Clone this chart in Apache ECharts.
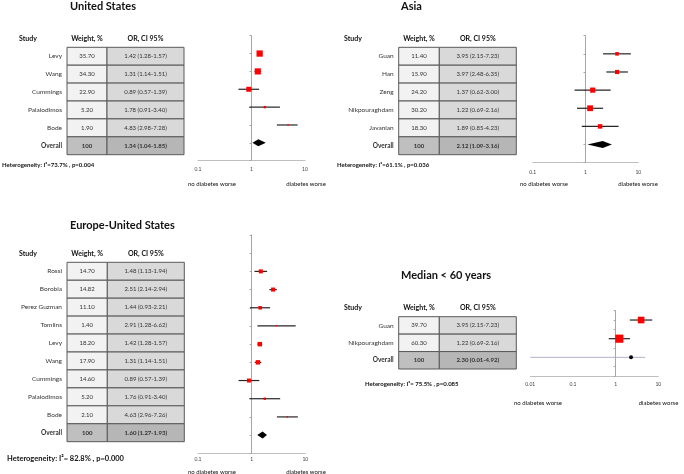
<!DOCTYPE html>
<html>
<head>
<meta charset="utf-8">
<style>
  html, body { margin: 0; padding: 0; background: #fff; }
  #chart { width: 684px; height: 474px; }
</style>
<script src="https://cdn.jsdelivr.net/npm/echarts@6/dist/echarts.min.js"></script>
</head>
<body>
<div id="chart"></div>
<script>
// United States
const usStudies = ['Levy', 'Wang', 'Cummings', 'Palaiodimos', 'Bode'];
const usWeight = [35.7, 34.3, 22.9, 5.2, 1.9];
const usOR = [1.42, 1.31, 0.89, 1.78, 4.83];
const usLow = [1.28, 1.14, 0.57, 0.91, 2.98];
const usHigh = [1.57, 1.51, 1.39, 3.40, 7.28];
const usOverall = [1.34, 1.04, 1.85]; // OR, low, high

// Asia
const asiaStudies = ['Guan', 'Han', 'Zeng', 'Nikpouraghdam', 'Javanian'];
const asiaWeight = [11.4, 15.9, 24.2, 30.2, 18.3];
const asiaOR = [3.95, 3.97, 1.37, 1.22, 1.89];
const asiaLow = [2.15, 2.48, 0.62, 0.69, 0.85];
const asiaHigh = [7.23, 6.35, 3.00, 2.16, 4.23];
const asiaOverall = [2.12, 1.09, 3.16];

// Europe-United States
const euStudies = ['Rossi', 'Borobia', 'Perez Guzman', 'Tomlins', 'Levy', 'Wang', 'Cummings', 'Palaiodimos', 'Bode'];
const euWeight = [14.7, 14.82, 11.1, 1.4, 18.2, 17.9, 14.6, 5.2, 2.1];
const euOR = [1.48, 2.51, 1.44, 2.91, 1.42, 1.31, 0.89, 1.76, 4.63];
const euLow = [1.13, 2.14, 0.93, 1.28, 1.28, 1.14, 0.57, 0.91, 2.96];
const euHigh = [1.94, 2.94, 2.21, 6.62, 1.57, 1.51, 1.39, 3.40, 7.26];
const euOverall = [1.60, 1.27, 1.93];

// Median < 60 years
const medStudies = ['Guan', 'Nikpouraghdam'];
const medWeight = [39.7, 60.3];
const medOR = [3.95, 1.22];
const medLow = [2.15, 0.69];
const medHigh = [7.23, 2.16];
const medOverall = [2.30, 0.01, 4.92];

const hetI2 = ['=73.7%', '=61.1%', '= 82.8%', '= 75.5%'];
const hetP = ['0.004', '0.036', '0.000', '0.085'];

const FONT = 'Lato, "Liberation Sans", sans-serif';
const TXT = '#333';

const panels = [
  {
    title: 'United States', studies: usStudies, weight: usWeight, or: usOR, low: usLow, high: usHigh, overall: usOverall,
    titlePos: [70, 6], headY: 39, studyX: 19,
    table: { left: 67, top: 47.3, width: 117, height: 107.4, split: 40 },
    forest: { left: 198, top: 35.7, width: 107, height: 125, yMin: 0, yMax: 7, step: 1, xMin: 0.1, labelMargin: 6 },
    hetPos: [2, 165], hetSize: 6, dirY: 184, dirX: [212, 306], diamond: true
  },
  {
    title: 'Asia', studies: asiaStudies, weight: asiaWeight, or: asiaOR, low: asiaLow, high: asiaHigh, overall: asiaOverall,
    titlePos: [401, 6], headY: 39, studyX: 344,
    table: { left: 398.7, top: 47.3, width: 117.6, height: 107.4, split: 40.6 },
    forest: { left: 532.7, top: 35.7, width: 105.6, height: 127, yMin: 0, yMax: 7, step: 1, xMin: 0.1, labelMargin: 7 },
    hetPos: [337, 165], hetSize: 6, dirY: 184, dirX: [544, 638], diamond: true
  },
  {
    title: 'Europe-United States', studies: euStudies, weight: euWeight, or: euOR, low: euLow, high: euHigh, overall: euOverall,
    titlePos: [70, 225], headY: 253.7, studyX: 19,
    table: { left: 67, top: 262.3, width: 117.3, height: 179.4, split: 40.3 },
    forest: { left: 198, top: 235, width: 107.3, height: 218.3, yMin: -1, yMax: 11, step: 1, xMin: 0.1, labelMargin: 4 },
    hetPos: [7, 459], hetSize: 7.5, dirY: 471.7, dirX: [212, 306], diamond: true
  },
  {
    title: 'Median < 60 years', studies: medStudies, weight: medWeight, or: medOR, low: medLow, high: medHigh, overall: medOverall,
    titlePos: [401, 275], headY: 307.7, studyX: 344,
    table: { left: 398.7, top: 316.7, width: 117.6, height: 52.3, split: 40.6 },
    forest: { left: 530.3, top: 310.7, width: 128, height: 65.3, yMin: 0.5, yMax: 4, step: 0.5, xMin: 0.01, labelMargin: 6 },
    hetPos: [365, 384.3], hetSize: 6, dirY: 402.7, dirX: [538, 658.5], diamond: false
  }
];

const fmt = v => v.toFixed(2);

function tableRenderer(p) {
  const n = p.studies.length;
  const frac = p.table.split / p.table.width;
  return function (params, api) {
    const i = params.dataIndex;
    const ov = i === n;
    const tl = api.coord([0, i]);
    const br = api.coord([1, i + 1]);
    const mid = api.coord([frac, i])[0];
    const cy = (tl[1] + br[1]) / 2;
    const name = ov ? 'Overall' : p.studies[i];
    const wTxt = ov ? '100' : fmt(p.weight[i]);
    const orTxt = ov
      ? fmt(p.overall[0]) + ' (' + fmt(p.overall[1]) + '-' + fmt(p.overall[2]) + ')'
      : fmt(p.or[i]) + ' (' + fmt(p.low[i]) + '-' + fmt(p.high[i]) + ')';
    const weightBold = ov ? 'bold' : 'normal';
    return {
      type: 'group',
      children: [
        { type: 'rect', shape: { x: tl[0], y: tl[1], width: mid - tl[0], height: br[1] - tl[1] },
          style: { fill: ov ? '#bfbfbf' : '#f2f2f2', stroke: '#595959', lineWidth: 1 } },
        { type: 'rect', shape: { x: mid, y: tl[1], width: br[0] - mid, height: br[1] - tl[1] },
          style: { fill: ov ? '#b6b6b6' : '#d9d9d9', stroke: '#595959', lineWidth: 1 } },
        { type: 'text', x: (tl[0] + mid) / 2, y: cy,
          style: { text: wTxt, fontSize: 6, fontWeight: weightBold, fontFamily: FONT, fill: TXT, align: 'center', verticalAlign: 'middle' } },
        { type: 'text', x: (mid + br[0]) / 2, y: cy,
          style: { text: orTxt, fontSize: 6, fontWeight: weightBold, fontFamily: FONT, fill: TXT, align: 'center', verticalAlign: 'middle' } },
        { type: 'text', x: tl[0] - 5, y: cy,
          style: { text: name, fontSize: 6.5, fontWeight: weightBold, fontFamily: FONT, fill: TXT, align: 'right', verticalAlign: 'middle' } }
      ]
    };
  };
}

function forestRenderer(p) {
  return function (params, api) {
    const or = api.value(0), row = api.value(1), lo = api.value(2), hi = api.value(3), w = api.value(4), ov = api.value(5);
    const c = api.coord([or, row]);
    const a = api.coord([lo, row]);
    const b = api.coord([hi, row]);
    const children = [];
    if (!ov) {
      children.push({ type: 'line', shape: { x1: a[0], y1: a[1], x2: b[0], y2: b[1] }, style: { stroke: '#262626', lineWidth: 1.2 } });
      const s = Math.sqrt(w) * 1.05;
      children.push({ type: 'rect', shape: { x: c[0] - s / 2, y: c[1] - s / 2, width: s, height: s }, style: { fill: '#ff0000' } });
    } else if (p.diamond) {
      const h = 3.5;
      children.push({ type: 'polygon', shape: { points: [[a[0], c[1]], [c[0], c[1] - h], [b[0], c[1]], [c[0], c[1] + h]] }, style: { fill: '#000' } });
    } else {
      children.push({ type: 'line', shape: { x1: a[0], y1: a[1], x2: b[0], y2: b[1] }, style: { stroke: '#b4b2c8', lineWidth: 1 } });
      children.push({ type: 'circle', shape: { cx: c[0], cy: c[1], r: 2 }, style: { fill: '#000' } });
    }
    return { type: 'group', children: children };
  };
}

const grid = [], xAxis = [], yAxis = [], series = [], graphic = [];

panels.forEach((p, k) => {
  const n = p.studies.length;
  const t = p.table, f = p.forest;

  // table grid
  grid.push({ left: t.left, top: t.top, width: t.width, height: t.height });
  xAxis.push({ gridIndex: 2 * k, type: 'value', min: 0, max: 1, show: false });
  yAxis.push({ gridIndex: 2 * k, type: 'value', min: 0, max: n + 1, inverse: true, show: false });
  const rows = [];
  for (let i = 0; i <= n; i++) rows.push([0, i]);
  series.push({ type: 'custom', xAxisIndex: 2 * k, yAxisIndex: 2 * k, renderItem: tableRenderer(p), data: rows, silent: true });

  // forest grid
  const logMin = Math.log10(f.xMin);
  const oneOffset = -f.width * (0 - logMin) / (1 - logMin);
  grid.push({ left: f.left, top: f.top, width: f.width, height: f.height });
  xAxis.push({
    gridIndex: 2 * k + 1, type: 'log', logBase: 10, min: f.xMin, max: 10,
    axisLine: { onZero: false, lineStyle: { color: '#bfbfbf', width: 1 } },
    axisTick: { show: false }, splitLine: { show: false },
    axisLabel: { fontSize: 5, color: '#444', fontFamily: FONT, margin: f.labelMargin }
  });
  yAxis.push({
    gridIndex: 2 * k + 1, type: 'value', min: f.yMin, max: f.yMax, interval: f.step, inverse: true,
    offset: oneOffset,
    axisLine: { show: true, onZero: false, lineStyle: { color: '#a6a6a6', width: 1 } },
    axisTick: { show: true, length: 2, lineStyle: { color: '#a6a6a6' } },
    axisLabel: { show: false }, splitLine: { show: false }
  });
  const pts = p.studies.map((s, i) => [p.or[i], i + 1, p.low[i], p.high[i], p.weight[i], 0]);
  pts.push([p.overall[0], n + 1, p.overall[1], p.overall[2], 100, 1]);
  series.push({ type: 'custom', xAxisIndex: 2 * k + 1, yAxisIndex: 2 * k + 1, renderItem: forestRenderer(p), data: pts, silent: true });

  // texts
  const txt = (x, y, text, size, weight, align) => ({
    type: 'text', x: x, y: y, silent: true,
    style: { text: text, fontSize: size, fontWeight: weight, fontFamily: FONT, fill: '#111', align: align, verticalAlign: 'middle' }
  });
  graphic.push(txt(p.titlePos[0], p.titlePos[1], p.title, 11, 'bold', 'left'));
  graphic.push(txt(p.studyX, p.headY, 'Study', 7, 'bold', 'left'));
  graphic.push(txt(t.left + t.split / 2, p.headY, 'Weight, %', 7, 'bold', 'center'));
  graphic.push(txt(t.left + t.split + (t.width - t.split) / 2, p.headY, 'OR, CI 95%', 7, 'bold', 'center'));
  graphic.push(txt(p.hetPos[0], p.hetPos[1], 'Heterogeneity: I²' + hetI2[k] + ' , p=' + hetP[k], p.hetSize, 'bold', 'left'));
  graphic.push(txt(p.dirX[0], p.dirY, 'no diabetes worse', 6, 'normal', 'center'));
  graphic.push(txt(p.dirX[1], p.dirY, 'diabetes worse', 6, 'normal', 'center'));
});

const chart = echarts.init(document.getElementById('chart'));
chart.setOption({
  animation: false,
  backgroundColor: '#fff',
  grid: grid,
  xAxis: xAxis,
  yAxis: yAxis,
  series: series,
  graphic: graphic
});
</script>
</body>
</html>
